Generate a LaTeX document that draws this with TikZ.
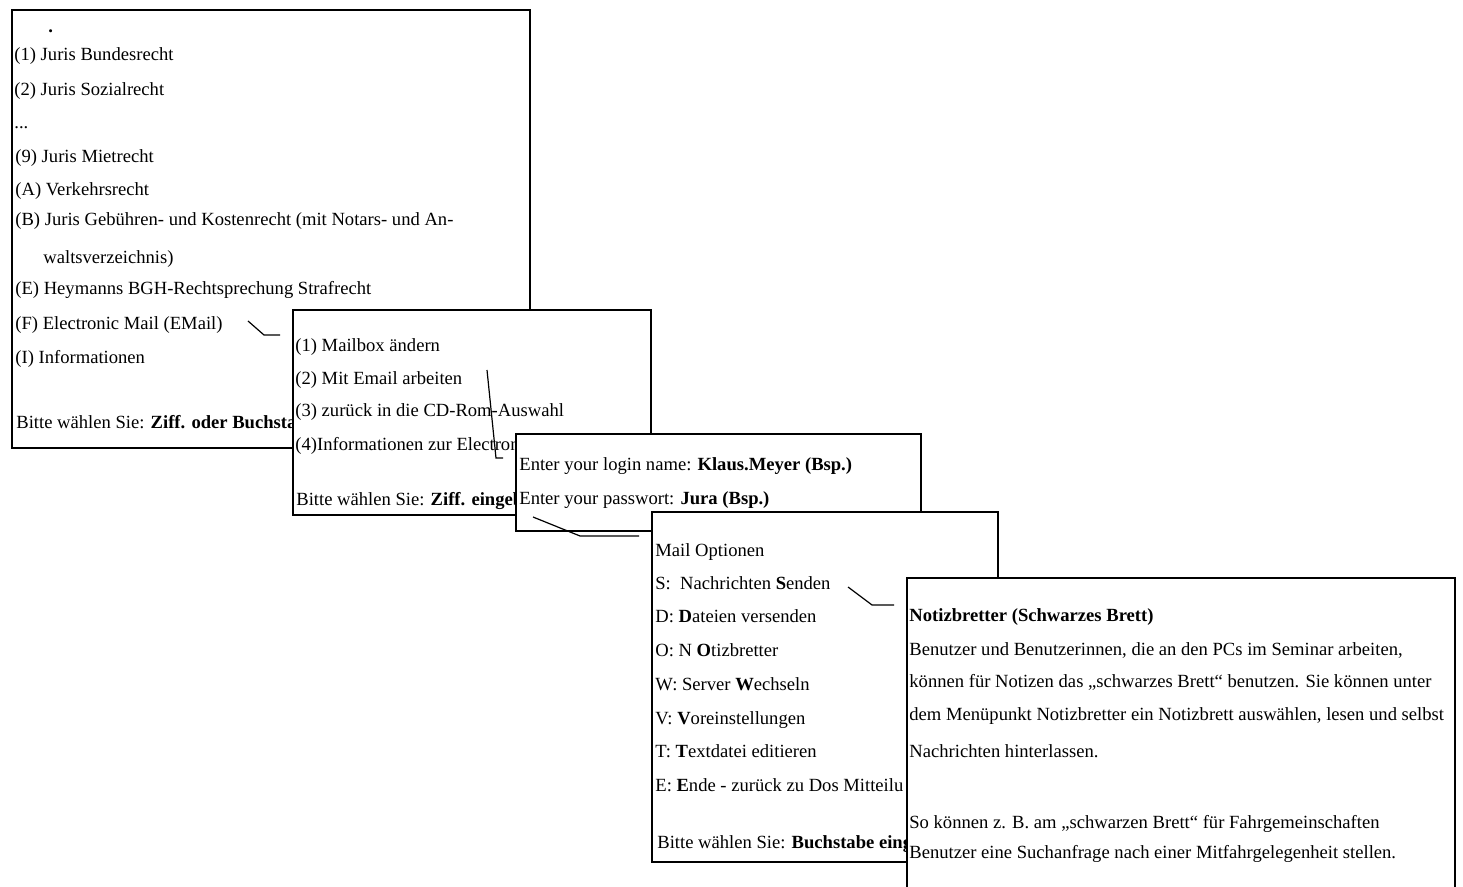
\documentclass[tikz,border=0pt]{standalone}
\usepackage{fontspec}
\setmainfont{Liberation Serif}
\usetikzlibrary{fit,calc}

\tikzset{
  panel/.style={draw, fill=white, line width=0.6pt, inner sep=0pt},
  entry/.style={anchor=base west, inner sep=0pt, font=\fontsize{9.3}{11}\selectfont},
  link/.style={line width=0.6pt, shorten >=6.5pt},
}

\begin{document}
\begin{tikzpicture}[x=0.5pt, y=-0.5pt]
\useasboundingbox (0,0) rectangle (1463,887);

% Hauptmenue der CD-Rom
\node[panel, fit={(12,10) (530,448)}] (menu) {};
\node[entry] (m0) at (48,33) {\textbf{.}};
\node[entry] (m1) at (14,61) {(1) Juris Bundesrecht};
\node[entry] (m2) at (14,96) {(2) Juris Sozialrecht};
\node[entry] (m3) at (14,129) {...};
\node[entry] (m4) at (15,163) {(9) Juris Mietrecht};
\node[entry] (m5) at (15,196) {(A) Verkehrsrecht};
\node[entry] (m6) at (15,226) {(B) Juris Gebühren- und Kostenrecht (mit Notars- und An-};
\node[entry] (m7) at (43,264) {waltsverzeichnis)};
\node[entry] (m8) at (15,295) {(E) Heymanns BGH-Rechtsprechung Strafrecht};
\node[entry] (m9) at (15,330) {(F) Electronic Mail (EMail)};
\node[entry] (m10) at (15,364) {(I) Informationen};
\node[entry] (m11) at (16,429) {Bitte wählen Sie: \textbf{Ziff. oder Buchsta}};
\coordinate (k1) at (248,321);
\draw[link] (k1) -- ++(16,14) coordinate (k1b) -- ($(k1b -| 293,0)$);

% Mail-Menue
\node[panel, fit={(293,310) (651,515)}] (mail) {};
\node[entry] (e1) at (295,352) {(1) Mailbox ändern};
\node[entry] (e2) at (295,385) {(2) Mit Email arbeiten};
\node[entry] (e3) at (295,417) {(3) zurück in die CD-Rom-Auswahl};
\node[entry] (e4) at (295,451) {(4)Informationen zur Electron};
\node[entry] (e5) at (296,506) {Bitte wählen Sie: \textbf{Ziff. eingeb}};
\coordinate (k2) at (487,370);
\draw[link] (k2) -- (496,458) coordinate (k2b) -- ($(k2b -| 516,0)$);

% Login
\node[panel, fit={(516,434) (921,531)}] (login) {};
\node[entry] (l1) at (519,471) {Enter your login name: \textbf{Klaus.Meyer (Bsp.)}};
\node[entry] (l2) at (519,505) {Enter your passwort: \textbf{Jura (Bsp.)}};
\coordinate (k3) at (533,517);
\draw[link] (k3) -- ++(47,19) coordinate (k3b) -- ($(k3b -| 652,0)$);

% Mail Optionen
\node[panel, fit={(652,512) (998,862)}] (opt) {};
\node[entry] (o1) at (655,557) {Mail Optionen};
\node[entry] (o2) at (655,590) {S:\ \ Nachrichten \textbf{S}enden};
\node[entry] (o3) at (655,623) {D: \textbf{D}ateien versenden};
\node[entry] (o4) at (655,656) {O: N \textbf{O}tizbretter};
\node[entry] (o5) at (655,690) {W: Server \textbf{W}echseln};
\node[entry] (o6) at (655,724) {V: \textbf{V}oreinstellungen};
\node[entry] (o7) at (655,757) {T: \textbf{T}extdatei editieren};
\node[entry] (o8) at (655,791) {E: \textbf{E}nde - zurück zu Dos Mitteilu};
\node[entry] (o9) at (657,848) {Bitte wählen Sie: \textbf{Buchstabe eing}};
\coordinate (k4) at (848,587);
\draw[link] (k4) -- ++(24,18) coordinate (k4b) -- ($(k4b -| 907,0)$);

% Notizbretter
\node[panel, fit={(907,578) (1455,900)}] (board) {};
\node[entry] (n1) at (909,622) {\textbf{Notizbretter (Schwarzes Brett)}};
\node[entry] (n2) at (909,655) {Benutzer und Benutzerinnen, die an den PCs im Seminar arbeiten,};
\node[entry] (n3) at (909,688) {können für Notizen das „schwarzes Brett“ benutzen. Sie können unter};
\node[entry] (n4) at (909,720) {dem Menüpunkt Notizbretter ein Notizbrett auswählen, lesen und selbst};
\node[entry] (n5) at (909,757) {Nachrichten hinterlassen.};
\node[entry] (n6) at (909,828) {So können z. B. am „schwarzen Brett“ für Fahrgemeinschaften};
\node[entry] (n7) at (909,858) {Benutzer eine Suchanfrage nach einer Mitfahrgelegenheit stellen.};
\end{tikzpicture}
\end{document}
